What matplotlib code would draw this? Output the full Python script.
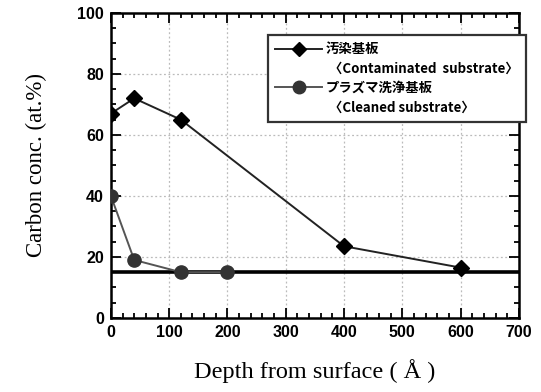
import matplotlib
matplotlib.use("Agg")
import matplotlib.pyplot as plt
from matplotlib.lines import Line2D
from matplotlib.ticker import MultipleLocator

# Data
depth_contam = [0, 40, 120, 400, 600]
carbon_contam = [67, 72, 65, 23.5, 16.5]
depth_clean = [0, 40, 120, 200]
carbon_clean = [40, 19, 15, 15]
baseline = 15

legend_labels = ["汚染基板", " 〈Contaminated  substrate〉",
                 "プラズマ洗浄基板", " 〈Cleaned substrate〉"]

fig = plt.figure(figsize=(5.41, 3.92), dpi=100)
ax = fig.add_axes([0.205, 0.189, 0.754, 0.778])

ax.axhline(baseline, color="black", lw=2.6, zorder=2)
ax.plot(depth_contam, carbon_contam, color="#222222", lw=1.4,
        marker="D", ms=8, mfc="black", mec="black", zorder=3)
ax.plot(depth_clean, carbon_clean, color="#555555", lw=1.4,
        marker="o", ms=9.5, mfc="#333333", mec="#333333", zorder=3)

ax.set_xlim(0, 700)
ax.set_ylim(0, 100)
ax.xaxis.set_major_locator(MultipleLocator(100))
ax.xaxis.set_minor_locator(MultipleLocator(20))
ax.yaxis.set_major_locator(MultipleLocator(20))
ax.yaxis.set_minor_locator(MultipleLocator(5))
ax.tick_params(which="both", direction="in", top=True, right=True, width=1.3)
ax.tick_params(which="major", length=7, labelsize=11.5, pad=5)
ax.tick_params(which="minor", length=3.5)
for lab in ax.get_xticklabels() + ax.get_yticklabels():
    lab.set_fontfamily("Liberation Sans")
    lab.set_fontweight("bold")
for sp in ax.spines.values():
    sp.set_linewidth(1.8)

ax.grid(True, which="major", color="#bbbbbb", ls=(0, (1.5, 2)), lw=0.9)

ax.set_xlabel("Depth from surface ( Å )", family="Liberation Serif",
              fontsize=17.5, labelpad=14)
ax.set_ylabel("Carbon conc. (at.%)", family="Liberation Serif",
              fontsize=16.5, labelpad=22)

blank = Line2D([], [], color="none")
h1 = Line2D([], [], color="#222222", lw=1.4, marker="D", ms=7.5,
            mfc="black", mec="black")
h2 = Line2D([], [], color="#555555", lw=1.4, marker="o", ms=9,
            mfc="#333333", mec="#333333")
leg = fig.legend([h1, blank, h2, blank], legend_labels,
                 loc="upper left", bbox_to_anchor=(268 / 541, 1 - 35 / 392),
                 borderaxespad=0, fancybox=False, framealpha=1,
                 edgecolor="#333333", handlelength=3.5, handletextpad=0.3,
                 labelspacing=0.4, borderpad=0.55,
                 prop={"family": ["Noto Sans CJK JP", "DejaVu Sans"],
                       "size": 9.6, "weight": "bold"})
leg.get_frame().set_linewidth(1.6)

fig.savefig("out.png", dpi=100)
